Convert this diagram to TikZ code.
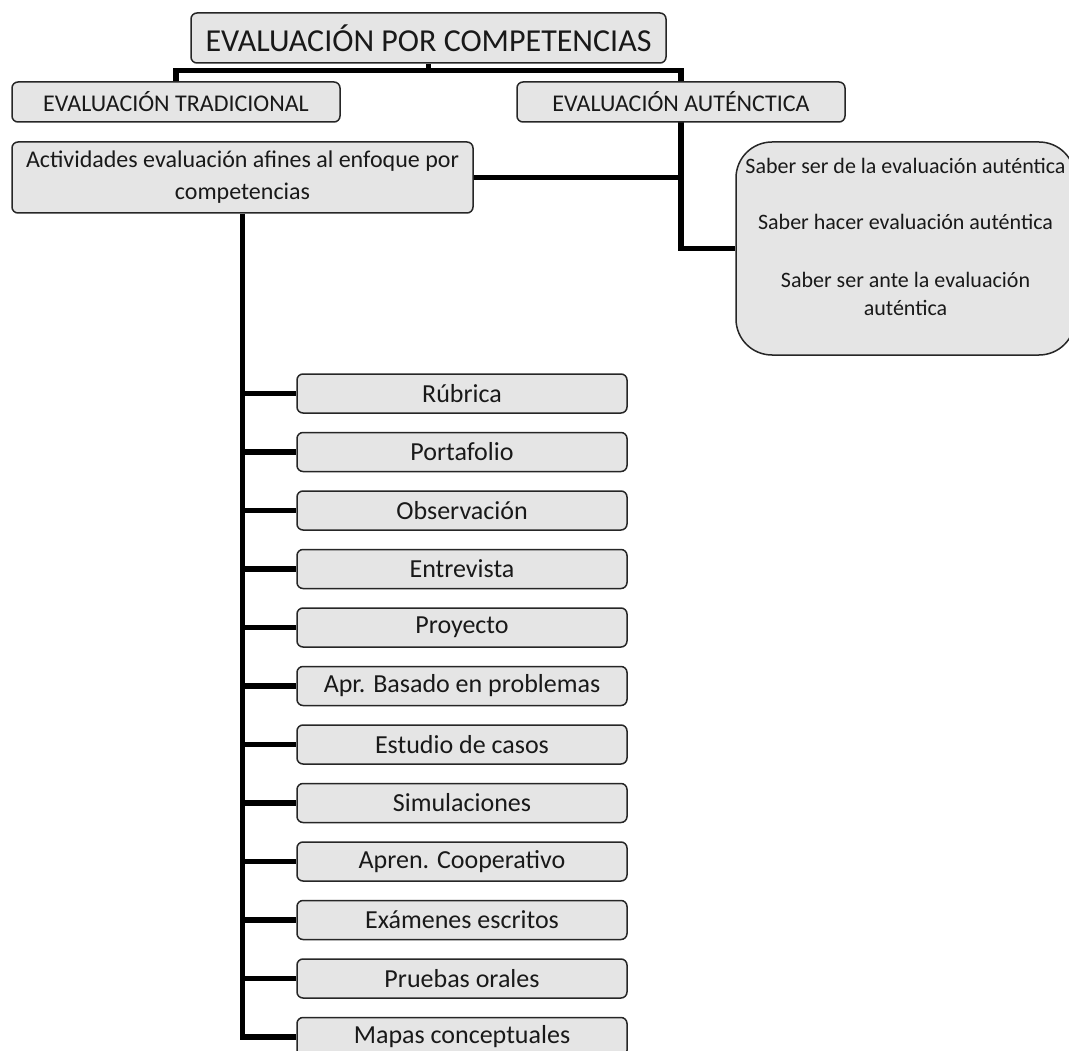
\documentclass[tikz,border=0pt]{standalone}
\usepackage{fontspec}
\setmainfont{Carlito}
\usetikzlibrary{backgrounds}
\tikzset{
  box/.style={draw=black!85, line width=1.5pt, fill=gray!20, rounded corners=6pt,
    inner sep=0pt, align=center, text=black!90},
  listbox/.style={box, minimum width=330pt, minimum height=39pt, font=\fontsize{26}{30}\selectfont},
  midbox/.style={box, minimum width=328pt, minimum height=40pt, font=\fontsize{24}{30}\selectfont},
  conn/.style={draw=black, line width=5.5pt, line join=miter}
}
\begin{document}
\begin{tikzpicture}[x=1pt,y=-1pt]
\useasboundingbox (0,0) rectangle (1069,1051);
\node[box, minimum width=475pt, minimum height=50pt, font=\fontsize{32}{38}\selectfont] (top) at (428.5,38) {EVALUACIÓN POR COMPETENCIAS};
\node[midbox] (trad) at (176,102) {EVALUACIÓN TRADICIONAL};
\node[midbox] (aut) at (681,102) {EVALUACIÓN AUTÉNCTICA};
\node[box, minimum width=461pt, minimum height=71pt, font=\fontsize{24}{32}\selectfont] (act) at (242.5,177.5) {Actividades evaluación afines al enfoque por\\competencias};
\node[box, rounded corners=36pt, minimum width=339pt, minimum height=213pt, font=\fontsize{22}{28}\selectfont] (right) at (905.5,248.5)
  {\begin{tabular}{@{}c@{}}Saber ser de la evaluación auténtica\\[28pt]Saber hacer evaluación auténtica\\[30pt]Saber ser ante la evaluación\\auténtica\\[19pt]\end{tabular}};
\foreach \t [count=\i from 0] in {Rúbrica,Portafolio,Observación,Entrevista,Proyecto,Apr. Basado en problemas,Estudio de casos,Simulaciones,Apren. Cooperativo,Exámenes escritos,Pruebas orales,Mapas conceptuales}
  \node[listbox] (m\i) at (462,393.5+58.5*\i) {\t};
\coordinate (bar) at (0,70.5);
\begin{scope}[on background layer]
  \draw[conn] (top.south) -- (top.south |- bar);
  \draw[conn] (trad.north) -- (trad.north |- bar) -- (aut.north |- bar) -- (aut.north |- right.west) -- (right.west);
  \draw[conn] (act.east) -- (act.east -| aut.south);
  \draw[conn] (act.south) -- (act.south |- m11.west) -- (m11.west);
  \foreach \i in {0,...,10}
    \draw[conn] (act.south |- m\i.west) -- (m\i.west);
\end{scope}
\end{tikzpicture}
\end{document}
